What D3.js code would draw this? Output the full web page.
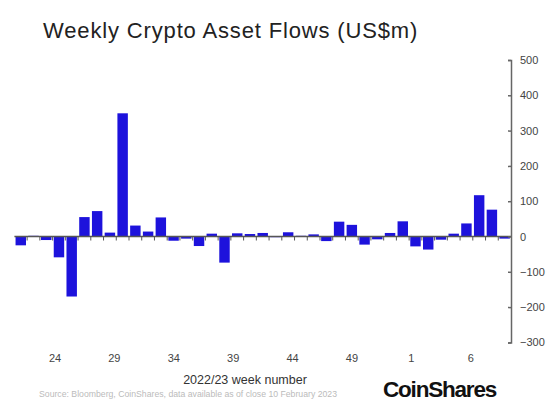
<!DOCTYPE html>
<meta charset="utf-8">
<body style="margin:0;background:#fff">
<style>
text { font-family: "Liberation Sans", Arial, sans-serif; }
.yaxis text { font-size: 11px; fill: #444; }
.yaxis path, .yaxis line { stroke: #666; stroke-width: 1.5px; }
</style>
<script src="https://d3js.org/d3.v7.min.js"></script>
<script>

// weeks 20-52 of 2022, then 1-6 of 2023
var weeks = ["20","21","22","23","24","25","26","27","28","29","30","31","32","33","34","35","36","37","38","39",
  "40","41","42","43","44","45","46","47","48","49","50","51","52","1","2","3","4","5","6"];
var flows = [-25, 2, -10, -59, -170, 55, 72, 11, 349, 31, 14, 54, -12, -6, -27, 8, -74, 9, 7, 10,
  -2, 12, 2, 6, -13, 42, 33, -23, -8, 10, 43, -28, -37, -9, 8, 37, 117, 76, -6];
var weekLabels = ["24", "29", "34", "39", "44", "49", "1", "6"];
var yTicks = [-300, -200, -100, 0, 100, 200, 300, 400, 500];

var width = 560, height = 416;

var svg = d3.select("body").append("svg")
    .attr("width", width)
    .attr("height", height);

var x = d3.scaleBand()
    .domain(weeks)
    .range([14.4, 511])
    .paddingInner(0.18)
    .paddingOuter(0.09);

var y = d3.scaleLinear()
    .domain([-300, 500])
    .range([342.4, 60]);

// the printed week labels do not sit under their bars in the original
var xl = d3.scalePoint()
    .domain(weekLabels)
    .range([55, 470.7]);

svg.append("text")
    .attr("x", 43)
    .attr("y", 37.5)
    .attr("font-size", 22)
    .attr("letter-spacing", 0.85)
    .attr("fill", "#222")
    .text("Weekly Crypto Asset Flows (US$m)");

svg.selectAll(".bar")
    .data(weeks)
  .enter().append("rect")
    .attr("class", "bar")
    .attr("x", function(d) { return x(d); })
    .attr("width", x.bandwidth())
    .attr("y", function(d, i) { return y(Math.max(0, flows[i])); })
    .attr("height", function(d, i) { return Math.abs(y(flows[i]) - y(0)); })
    .attr("fill", "#1d12dc");

// zero line with ticks between the weeks
svg.append("line")
    .attr("x1", x.range()[0])
    .attr("x2", x.range()[1])
    .attr("y1", y(0))
    .attr("y2", y(0))
    .attr("stroke", "#555")
    .attr("stroke-width", 1.5);

svg.selectAll(".sep")
    .data(weeks.slice(1))
  .enter().append("line")
    .attr("class", "sep")
    .attr("x1", function(d) { return x(d) - x.step() * x.paddingInner() / 2; })
    .attr("x2", function(d) { return x(d) - x.step() * x.paddingInner() / 2; })
    .attr("y1", y(0))
    .attr("y2", y(0) + 4)
    .attr("stroke", "#555")
    .attr("stroke-width", 1);

svg.append("g")
    .attr("class", "yaxis")
    .attr("transform", "translate(511,0)")
    .call(d3.axisRight(y).tickValues(yTicks).tickSize(-3).tickPadding(9));

svg.append("g").selectAll("text")
    .data(weekLabels)
  .enter().append("text")
    .attr("x", function(d) { return xl(d); })
    .attr("y", 362)
    .attr("text-anchor", "middle")
    .attr("font-size", 11)
    .attr("fill", "#444")
    .text(function(d) { return d; });

svg.append("text")
    .attr("x", 245)
    .attr("y", 384)
    .attr("text-anchor", "middle")
    .attr("font-size", 12.5)
    .attr("fill", "#333")
    .text("2022/23 week number");

svg.append("text")
    .attr("x", 39)
    .attr("y", 397)
    .attr("font-size", 8.7)
    .attr("fill", "#bbb")
    .text("Source: Bloomberg, CoinShares, data available as of close 10 February 2023");

svg.append("text")
    .attr("x", 383)
    .attr("y", 397)
    .attr("font-size", 22.5)
    .attr("font-weight", "bold")
    .attr("fill", "#111")
    .attr("letter-spacing", -1.2)
    .text("CoinShares");

</script>
</body>
</html>
